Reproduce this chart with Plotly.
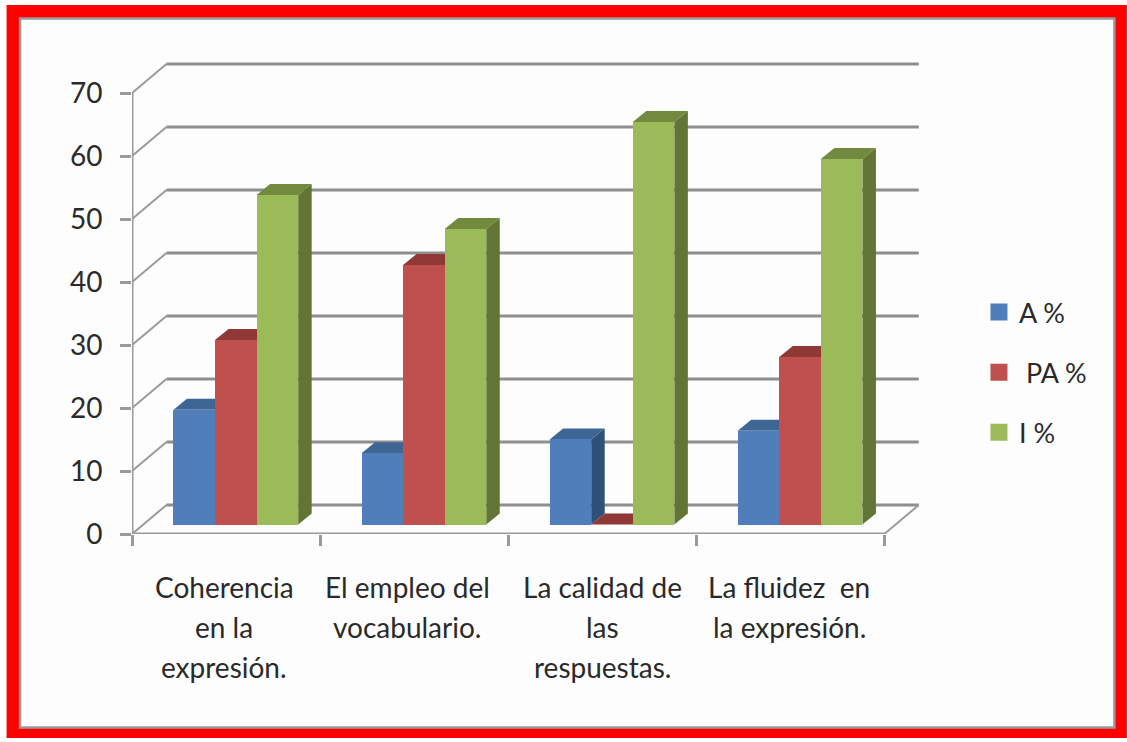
import numpy as np
import plotly.graph_objects as go

categories = ["Coherencia\nen la\nexpresión.", "El empleo del\nvocabulario.",
              "La calidad de\nlas\nrespuestas.", "La fluidez  en\nla expresión."]
series_names = ["A %", " PA %", "I %"]
a_values = [18.2, 11.3, 13.5, 14.9]
pa_values = [29.3, 41.2, 0, 26.6]
i_values = [52.3, 46.9, 63.9, 58.0]
y_ticks = [0, 10, 20, 30, 40, 50, 60, 70]

front = ["#4F7EBA", "#C0504D", "#9BBB59"]
top_c = ["#3D6694", "#8F3835", "#728A3E"]
side_c = ["#2F5179", "#8F3835", "#637535"]

W, H = 1127, 742
PX, PY = 188.2, 6.3            # pixels per category / per 1 %
L, B = 131.5, 534              # origin of the front plane
R, T = 926, 58                 # plot area outer limits
xmax = (R - L) / PX
ymax = (B - T) / PY
wall_dx, wall_dy = 34.5 / PX, 29 / PY
bar_dx, bar_dy = 13.5 / PX, 11 / PY
floor = 9.5 / PY
bar_w = 41.6 / PX
start = 41.5 / PX
GRID = "#8E8E8E"


def px(x):
    return (x - L) / (R - L)


def py(y):
    return (B - y) / (B - T)


shapes = [
    dict(type="rect", xref="paper", yref="paper", x0=px(6), x1=px(1127), y0=py(738), y1=py(5),
         fillcolor="#FF0000", line_width=0, layer="below"),
    dict(type="rect", xref="paper", yref="paper", x0=px(19.5), x1=px(1114.5), y0=py(727.5), y1=py(18.5),
         fillcolor="#FDFDFD", line=dict(color="#9A9A9A", width=2.5), layer="below"),
]
for v in y_ticks:
    shapes.append(dict(type="line", xref="x", yref="y", x0=0, x1=wall_dx, y0=v, y1=v + wall_dy,
                       line=dict(color="#9A9A9A", width=2), layer="below"))
    shapes.append(dict(type="line", xref="x", yref="y", x0=wall_dx, x1=4 + wall_dx, y0=v + wall_dy, y1=v + wall_dy,
                       line=dict(color=GRID, width=3), layer="below"))
shapes.append(dict(type="line", xref="x", yref="y", x0=4, x1=4 + wall_dx, y0=0, y1=wall_dy,
                   line=dict(color="#9A9A9A", width=2), layer="below"))

fig = go.Figure()
groups = np.arange(len(categories))
all_values = [a_values, pa_values, i_values]
for s, vals in enumerate(all_values):
    left = groups + start + s * bar_w
    fig.add_trace(go.Bar(x=left + bar_w / 2, y=vals, base=[floor] * len(vals), width=bar_w,
                         marker=dict(color=front[s], line_width=0), showlegend=False,
                         name=series_names[s]))
    for x0, v in zip(left, vals):
        t = floor + v
        x1 = x0 + bar_w
        shapes.append(dict(type="path", xref="x", yref="y", layer="below", line_width=0, fillcolor=top_c[s],
                           path=f"M{x0},{t} L{x1},{t} L{x1 + bar_dx},{t + bar_dy} L{x0 + bar_dx},{t + bar_dy} Z"))
        shapes.append(dict(type="path", xref="x", yref="y", layer="below", line_width=0, fillcolor=side_c[s],
                           path=f"M{x1},{floor} L{x1 + bar_dx},{floor + bar_dy} L{x1 + bar_dx},{t + bar_dy} L{x1},{t} Z"))
    # legend entry with the reference's larger swatch
    fig.add_trace(go.Bar(x=[None], y=[None], name=series_names[s], legendgroup=series_names[s],
                         marker=dict(color=front[s], line=dict(color=front[s], width=5))))

# axis lines (may overhang the plot area)
fig.add_trace(go.Scatter(x=[0, 0], y=[0, 70], mode="lines", line=dict(color="#9A9A9A", width=3),
                         cliponaxis=False, showlegend=False, hoverinfo="skip"))
fig.add_trace(go.Scatter(x=[0, 4], y=[0, 0], mode="lines", line=dict(color="#9A9A9A", width=3),
                         cliponaxis=False, showlegend=False, hoverinfo="skip"))

annotations = []
label_shift = [-2, -7, 0, -1]
line_y = [587, 627, 667]
for i, c in enumerate(categories):
    for j, part in enumerate(c.split("\n")):
        annotations.append(dict(x=i + 0.5 + label_shift[i] / PX, xref="x", y=py(line_y[j]), yref="paper",
                                text=part, showarrow=False, xanchor="center", yanchor="middle",
                                font=dict(family="Lato", size=28, color="#2A2A2A")))

fig.update_layout(
    width=W, height=H, margin=dict(l=L, r=W - R, t=T, b=H - B, pad=0, autoexpand=False),
    paper_bgcolor="white", plot_bgcolor="rgba(0,0,0,0)",
    barmode="overlay", bargap=0, shapes=shapes, annotations=annotations,
    font=dict(family="Lato", size=27, color="#2A2A2A"),
    xaxis=dict(range=[0, xmax], tickvals=list(range(5)), ticks="outside", ticklen=11, tickwidth=2.5,
               tickcolor="#9A9A9A", showticklabels=False, showgrid=False, zeroline=False, showline=False),
    yaxis=dict(range=[0, ymax], tickvals=y_ticks, ticks="outside", ticklen=11, tickwidth=2.5,
               tickcolor="#9A9A9A", showgrid=False, zeroline=False, showline=False, ticklabelstandoff=12,
               tickfont=dict(family="Lato", size=28, color="#2A2A2A")),
    legend=dict(x=px(979), y=py(288), xanchor="left", yanchor="top", bgcolor="rgba(0,0,0,0)",
                traceorder="grouped", tracegroupgap=22, font=dict(family="Lato", size=27, color="#2A2A2A")),
)
fig.write_html("out.html", config={"displayModeBar": False},
               post_script="document.body.style.margin='0';document.body.style.overflow='hidden';")
